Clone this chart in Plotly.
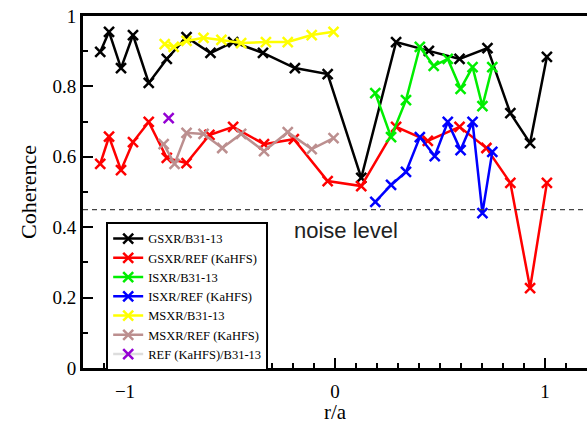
import plotly.graph_objects as go

# ---- data ----
gsxr_b31_x = [-1.118, -1.076, -1.019, -0.962, -0.887, -0.801, -0.707, -0.593, -0.485, -0.343,
              -0.191, -0.035, 0.125, 0.291, 0.447, 0.593, 0.726, 0.835, 0.929, 1.009]
gsxr_b31_y = [0.898, 0.955, 0.852, 0.946, 0.810, 0.878, 0.940, 0.895, 0.926, 0.895,
              0.852, 0.835, 0.540, 0.926, 0.901, 0.878, 0.909, 0.724, 0.639, 0.884]

gsxr_ref_x = [-1.118, -1.076, -1.019, -0.962, -0.887, -0.801, -0.707, -0.598, -0.485, -0.338,
              -0.196, -0.035, 0.125, 0.291, 0.442, 0.593, 0.721, 0.835, 0.929, 1.009]
gsxr_ref_y = [0.580, 0.657, 0.562, 0.642, 0.699, 0.597, 0.582, 0.662, 0.685, 0.636,
              0.650, 0.531, 0.517, 0.685, 0.645, 0.685, 0.625, 0.526, 0.227, 0.526]

isxr_b31_x = [0.192, 0.267, 0.338, 0.404, 0.470, 0.537, 0.598, 0.655, 0.702, 0.749]
isxr_b31_y = [0.781, 0.656, 0.761, 0.912, 0.858, 0.878, 0.793, 0.855, 0.744, 0.855]

isxr_ref_x = [0.192, 0.267, 0.338, 0.404, 0.475, 0.537, 0.598, 0.655, 0.702, 0.749]
isxr_ref_y = [0.472, 0.520, 0.557, 0.656, 0.602, 0.699, 0.619, 0.699, 0.440, 0.614]

msxr_b31_x = [-0.811, -0.768, -0.707, -0.626, -0.541, -0.447, -0.329, -0.225, -0.111, -0.007]
msxr_b31_y = [0.920, 0.912, 0.929, 0.938, 0.932, 0.923, 0.926, 0.926, 0.946, 0.955]

msxr_ref_x = [-0.816, -0.764, -0.707, -0.626, -0.537, -0.447, -0.338, -0.225, -0.111, -0.007]
msxr_ref_y = [0.636, 0.580, 0.668, 0.665, 0.625, 0.665, 0.616, 0.670, 0.622, 0.653]

ref_b31_x = [-0.792]
ref_b31_y = [0.710]

noise_level = 0.45

series = [
    ("GSXR/B31-13", gsxr_b31_x, gsxr_b31_y, "black", "black"),
    ("GSXR/REF (KaHFS)", gsxr_ref_x, gsxr_ref_y, "#ff0000", "#ff0000"),
    ("ISXR/B31-13", isxr_b31_x, isxr_b31_y, "#00ee00", "#00ee00"),
    ("ISXR/REF (KaHFS)", isxr_ref_x, isxr_ref_y, "#0000ff", "#0000ff"),
    ("MSXR/B31-13", msxr_b31_x, msxr_b31_y, "#ffff00", "#ffff00"),
    ("MSXR/REF (KaHFS)", msxr_ref_x, msxr_ref_y, "#bc8f8f", "#bc8f8f"),
    ("REF (KaHFS)/B31-13", ref_b31_x, ref_b31_y, "#dddddd", "#9400d3"),
]

fig = go.Figure()
for name, xs, ys, lc, mc in series:
    fig.add_trace(go.Scatter(
        x=xs, y=ys, name=name, mode="lines+markers",
        line=dict(color=lc, width=2.5),
        marker=dict(symbol="x-thin", size=10, color=mc, line=dict(color=mc, width=2.5)),
    ))

fig.add_shape(type="line", xref="paper", x0=0, x1=1, yref="y", y0=noise_level, y1=noise_level,
              line=dict(color="#444444", width=1.2, dash="5px,4px"))
fig.add_annotation(x=-0.205, y=0.39, xref="x", yref="y", text="noise level", showarrow=False,
                   xanchor="left", yanchor="middle",
                   font=dict(family="Liberation Sans", size=22, color="#222222"))

serif = "Liberation Serif"
fig.update_layout(
    width=587, height=424,
    margin=dict(l=83, r=0, t=16, b=56, autoexpand=False),
    paper_bgcolor="white", plot_bgcolor="white",
    font=dict(family=serif, color="black"),
    showlegend=True,
    legend=dict(x=0.046, y=0.415, xanchor="left", yanchor="top",
                bgcolor="white", bordercolor="black", borderwidth=2,
                font=dict(family=serif, size=12.5), itemwidth=30,
                tracegroupgap=0),
    xaxis=dict(range=[-1.2, 1.2], dtick=1, tick0=0, ticks="inside", ticklen=10, tickwidth=2,
               tickcolor="black", showgrid=False, zeroline=False, automargin=True,
               showline=True, linecolor="black", linewidth=3, mirror=True,
               minor=dict(dtick=0.1, tick0=0, ticks="inside", ticklen=5, tickwidth=2, tickcolor="black"),
               tickfont=dict(family=serif, size=19), ticklabelstandoff=4,
               ticklabeloverflow="allow",
               title=dict(text="r/a", font=dict(family=serif, size=21), standoff=8)),
    yaxis=dict(range=[0, 1], dtick=0.2, tick0=0, ticks="inside", ticklen=10, tickwidth=2,
               tickcolor="black", showgrid=False, zeroline=False, automargin=True,
               showline=True, linecolor="black", linewidth=3, mirror=False,
               minor=dict(dtick=0.1, tick0=0, ticks="inside", ticklen=5, tickwidth=2, tickcolor="black"),
               tickfont=dict(family=serif, size=19), ticklabeloverflow="allow",
               title=dict(text="Coherence", font=dict(family=serif, size=22), standoff=10)),
)

fig.write_html("out.html", config={"displayModeBar": False},
               post_script="document.body.style.margin='0';document.body.style.padding='0';")
